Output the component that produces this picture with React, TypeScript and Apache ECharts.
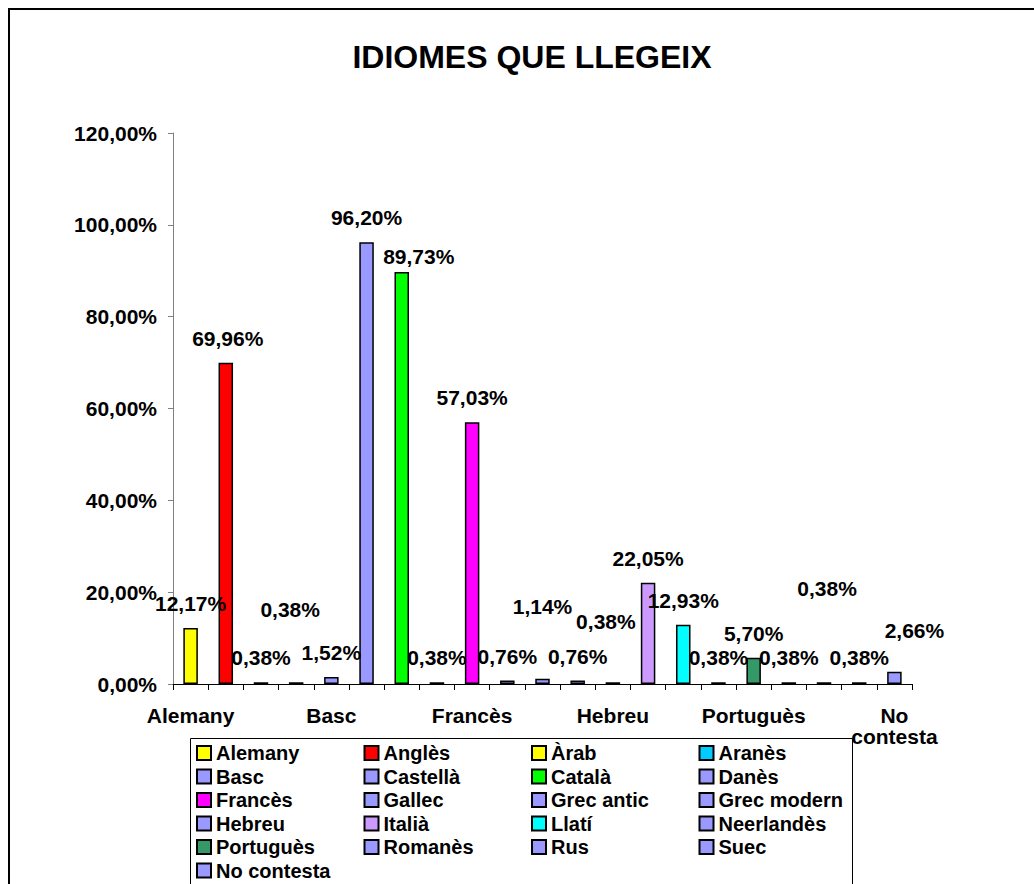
import React, { useEffect, useRef } from "react";
import * as echarts from "echarts";

const categories = [
  "Alemany", "Anglès", "Àrab", "Aranès", "Basc", "Castellà", "Català", "Danès",
  "Francès", "Gallec", "Grec antic", "Grec modern", "Hebreu", "Italià", "Llatí",
  "Neerlandès", "Portuguès", "Romanès", "Rus", "Suec", "No contesta",
];
const values = [
  12.17, 69.96, 0.38, 0.38, 1.52, 96.2, 89.73, 0.38, 57.03, 0.76, 1.14, 0.76,
  0.38, 22.05, 12.93, 0.38, 5.7, 0.38, 0.38, 0.38, 2.66,
];
const colors = [
  "#FFFF00", "#FF0000", "#FFFF00", "#00CCFF", "#9999FF", "#9999FF", "#00FF00",
  "#9999FF", "#FF00FF", "#9999FF", "#9999FF", "#9999FF", "#9999FF", "#CC99FF",
  "#00FFFF", "#9999FF", "#339966", "#9999FF", "#9999FF", "#9999FF", "#9999FF",
];
// label nudges (style only), [dx, dy] in px
const labelOffsets: [number, number][] = [
  [0, 0], [2, 0], [0, 0], [-6, -48], [0, 0], [0, 0], [17, 9], [0, 0], [0, 0],
  [0, 0], [0, -48], [0, 0], [-7, -36], [0, 0], [0, 0], [0, 0], [0, 0], [0, 0],
  [3, -69], [0, 0], [20, -17],
];
const yMin = 0;
const yMax = 120;
const yStep = 20;
const title = "IDIOMES QUE LLEGEIX";

const FONT = "'Liberation Sans', Arial, Helvetica, sans-serif";
const fmt = (v: number) => v.toFixed(2).replace(".", ",") + "%";

export default function App() {
  const ref = useRef<HTMLDivElement>(null);
  useEffect(() => {
    document.body.style.margin = "0";
    if (!ref.current) return;
    const chart = echarts.init(ref.current, null, { renderer: "svg" });
    const series = categories.map((name, i) => ({
      name,
      type: "bar",
      stack: "all",
      barWidth: 14.5,
      data: categories.map((_, j) => (j === i ? values[i] : "-")),
      itemStyle: { color: colors[i], borderColor: "#000", borderWidth: 1.5 },
      label: {
        show: true,
        position: "top",
        distance: 14,
        offset: labelOffsets[i],
        formatter: (p: any) => fmt(p.value),
        fontSize: 21,
        fontWeight: "bold",
        fontFamily: FONT,
        color: "#000",
      },
    }));
    chart.setOption({
      animation: false,
      backgroundColor: "#fff",
      title: {
        text: title,
        left: 527,
        top: 36,
        textAlign: "center",
        textStyle: { fontSize: 32, fontWeight: "bold", fontFamily: FONT, color: "#000" },
      },
      grid: { left: 173, right: 122, top: 133, bottom: 200 },
      xAxis: {
        type: "category",
        data: categories,
        axisLine: { lineStyle: { color: "#000", width: 1 } },
        axisTick: { show: true, interval: 0, length: 6, lineStyle: { color: "#000" } },
        axisLabel: {
          interval: 3,
          margin: 21,
          fontSize: 21,
          fontWeight: "bold",
          fontFamily: FONT,
          color: "#000",
          lineHeight: 21,
          formatter: (v: string) => (v === "No contesta" ? "No\ncontesta" : v),
        },
      },
      yAxis: {
        type: "value",
        min: yMin,
        max: yMax,
        interval: yStep,
        splitLine: { show: false },
        axisLine: { show: true, lineStyle: { color: "#808080", width: 1 } },
        axisTick: { show: true, length: 5, lineStyle: { color: "#808080" } },
        axisLabel: {
          margin: 16,
          fontSize: 21,
          fontWeight: "bold",
          fontFamily: FONT,
          color: "#000",
          formatter: (v: number) => fmt(v),
        },
      },
      legend: {
        data: categories,
        left: 196,
        top: 743,
        width: 690,
        padding: 0,
        itemGap: 3.5,
        itemWidth: 14,
        itemHeight: 14,
        icon: "rect",
        selectedMode: false,
        textStyle: {
          fontSize: 20,
          fontWeight: "bold",
          fontFamily: FONT,
          color: "#000",
          width: 144,
          lineHeight: 16,
        },
      },
      graphic: [
        {
          type: "rect",
          shape: { x: 9, y: 9, width: 1200, height: 1000 },
          style: { fill: "none", stroke: "#000", lineWidth: 2 },
          silent: true,
        },
        {
          type: "rect",
          shape: { x: 190.5, y: 738.5, width: 662, height: 300 },
          style: { fill: "none", stroke: "#000", lineWidth: 1 },
          silent: true,
        },
      ],
      series,
    });
    return () => chart.dispose();
  }, []);
  return <div ref={ref} style={{ width: 1034, height: 884 }} />;
}
